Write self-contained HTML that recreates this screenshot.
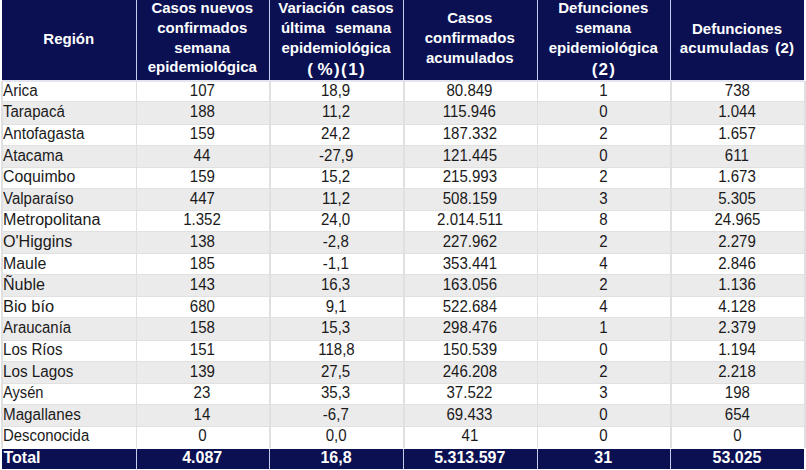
<!DOCTYPE html><html><head><meta charset="utf-8"><style>
html,body{margin:0;padding:0;background:#fff;}
body{width:806px;height:470px;position:relative;overflow:hidden;font-family:"Liberation Sans",sans-serif;}
.a{position:absolute;}
.t{position:absolute;white-space:nowrap;line-height:20px;height:20px;}
.h{color:#fff;font-weight:bold;font-size:15px;text-align:center;}
.b{color:#1a1a1a;font-size:16px;}
.c{text-align:center;}
.s{display:inline-block;transform-origin:50% 50%;transform:scaleX(0.94);}
.sl{display:inline-block;transform-origin:0 50%;transform:scaleX(0.94);}
</style></head><body>
<div class="a" style="left:2px;top:0;width:802px;height:80px;background:#0a1052"></div>
<div class="a" style="left:2px;top:80px;width:802px;height:1.6px;background:#e4e5f1"></div>
<div class="a" style="left:135.5px;top:0;width:1px;height:80px;background:#c8cdf0"></div>
<div class="a" style="left:269.0px;top:0;width:1px;height:80px;background:#c8cdf0"></div>
<div class="a" style="left:403.0px;top:0;width:1px;height:80px;background:#c8cdf0"></div>
<div class="a" style="left:536.5px;top:0;width:1px;height:80px;background:#c8cdf0"></div>
<div class="a" style="left:670.0px;top:0;width:1px;height:80px;background:#c8cdf0"></div>
<div class="a" style="left:2px;top:101.40px;width:802px;height:23.20px;background:#ecebec;box-sizing:border-box;border-top:1.2px solid #e2e1e2;border-bottom:1.2px solid #e2e1e2"></div>
<div class="a" style="left:2px;top:144.60px;width:802px;height:23.20px;background:#ecebec;box-sizing:border-box;border-top:1.2px solid #e2e1e2;border-bottom:1.2px solid #e2e1e2"></div>
<div class="a" style="left:2px;top:187.80px;width:802px;height:23.20px;background:#ecebec;box-sizing:border-box;border-top:1.2px solid #e2e1e2;border-bottom:1.2px solid #e2e1e2"></div>
<div class="a" style="left:2px;top:231.00px;width:802px;height:23.20px;background:#ecebec;box-sizing:border-box;border-top:1.2px solid #e2e1e2;border-bottom:1.2px solid #e2e1e2"></div>
<div class="a" style="left:2px;top:274.20px;width:802px;height:23.20px;background:#ecebec;box-sizing:border-box;border-top:1.2px solid #e2e1e2;border-bottom:1.2px solid #e2e1e2"></div>
<div class="a" style="left:2px;top:317.40px;width:802px;height:23.20px;background:#ecebec;box-sizing:border-box;border-top:1.2px solid #e2e1e2;border-bottom:1.2px solid #e2e1e2"></div>
<div class="a" style="left:2px;top:360.60px;width:802px;height:23.20px;background:#ecebec;box-sizing:border-box;border-top:1.2px solid #e2e1e2;border-bottom:1.2px solid #e2e1e2"></div>
<div class="a" style="left:2px;top:403.80px;width:802px;height:23.20px;background:#ecebec;box-sizing:border-box;border-top:1.2px solid #e2e1e2;border-bottom:1.2px solid #e2e1e2"></div>
<div class="a" style="left:1.3px;top:81px;width:1.4px;height:367px;background:#e0e0e0"></div>
<div class="a" style="left:135.8px;top:81px;width:1.4px;height:367px;background:#e0e0e0"></div>
<div class="a" style="left:269.3px;top:81px;width:1.4px;height:367px;background:#e0e0e0"></div>
<div class="a" style="left:403.3px;top:81px;width:1.4px;height:367px;background:#e0e0e0"></div>
<div class="a" style="left:536.8px;top:81px;width:1.4px;height:367px;background:#e0e0e0"></div>
<div class="a" style="left:670.3px;top:81px;width:1.4px;height:367px;background:#e0e0e0"></div>
<div class="a" style="left:804.3px;top:81px;width:1.4px;height:367px;background:#e0e0e0"></div>
<div class="a" style="left:2px;top:448.5px;width:802px;height:20px;background:#0a1052"></div>
<div class="a" style="left:135.5px;top:448.5px;width:1px;height:20px;background:#c8cdf0"></div>
<div class="a" style="left:269.0px;top:448.5px;width:1px;height:20px;background:#c8cdf0"></div>
<div class="a" style="left:403.0px;top:448.5px;width:1px;height:20px;background:#c8cdf0"></div>
<div class="a" style="left:536.5px;top:448.5px;width:1px;height:20px;background:#c8cdf0"></div>
<div class="a" style="left:670.0px;top:448.5px;width:1px;height:20px;background:#c8cdf0"></div>
<div class="t h" style="left:2.0px;width:133.5px;top:28.70px;">Región</div>
<div class="t h" style="left:135.5px;width:133.5px;top:-1.60px;">Casos nuevos</div>
<div class="t h" style="left:135.5px;width:133.5px;top:18.05px;">confirmados</div>
<div class="t h" style="left:135.5px;width:133.5px;top:37.70px;">semana</div>
<div class="t h" style="left:135.5px;width:133.5px;top:57.35px;">epidemiológica</div>
<div class="t h" style="left:269.0px;width:134.0px;top:-1.60px;word-spacing:2px;">Variación casos</div>
<div class="t h" style="left:269.0px;width:134.0px;top:18.05px;word-spacing:6px;">última semana</div>
<div class="t h" style="left:269.0px;width:134.0px;top:37.70px;">epidemiológica</div>
<div class="t h" style="left:269.0px;width:134.0px;top:59.71px;font-size:17px;letter-spacing:1.4px;text-indent:1.4px;word-spacing:-3px;">( %)(1)</div>
<div class="t h" style="left:403.0px;width:133.5px;top:8.30px;">Casos</div>
<div class="t h" style="left:403.0px;width:133.5px;top:27.95px;">confirmados</div>
<div class="t h" style="left:403.0px;width:133.5px;top:47.60px;">acumulados</div>
<div class="t h" style="left:536.5px;width:133.5px;top:-1.60px;">Defunciones</div>
<div class="t h" style="left:536.5px;width:133.5px;top:18.05px;">semana</div>
<div class="t h" style="left:536.5px;width:133.5px;top:37.70px;">epidemiológica</div>
<div class="t h" style="left:536.5px;width:133.5px;top:59.71px;font-size:17px;letter-spacing:1.2px;text-indent:1.2px;">(2)</div>
<div class="t h" style="left:670.0px;width:134.0px;top:18.60px;">Defunciones</div>
<div class="t h" style="left:670.0px;width:134.0px;top:38.25px;letter-spacing:0.25px;word-spacing:2px;">acumuladas (2)</div>
<div class="t b" style="left:3px;top:80.86px"><span class="sl" style="transform:scaleX(0.951)">Arica</span></div>
<div class="t b c" style="left:135.5px;width:133.5px;top:80.86px"><span class="s">107</span></div>
<div class="t b c" style="left:269.0px;width:134.0px;top:80.86px"><span class="s">18,9</span></div>
<div class="t b c" style="left:403.0px;width:133.5px;top:80.86px"><span class="s">80.849</span></div>
<div class="t b c" style="left:536.5px;width:133.5px;top:80.86px"><span class="s">1</span></div>
<div class="t b c" style="left:670.0px;width:134.0px;top:80.86px"><span class="s">738</span></div>
<div class="t b" style="left:3px;top:102.46px"><span class="sl" style="transform:scaleX(0.939)">Tarapacá</span></div>
<div class="t b c" style="left:135.5px;width:133.5px;top:102.46px"><span class="s">188</span></div>
<div class="t b c" style="left:269.0px;width:134.0px;top:102.46px"><span class="s">11,2</span></div>
<div class="t b c" style="left:403.0px;width:133.5px;top:102.46px"><span class="s">115.946</span></div>
<div class="t b c" style="left:536.5px;width:133.5px;top:102.46px"><span class="s">0</span></div>
<div class="t b c" style="left:670.0px;width:134.0px;top:102.46px"><span class="s">1.044</span></div>
<div class="t b" style="left:3px;top:124.06px"><span class="sl" style="transform:scaleX(0.953)">Antofagasta</span></div>
<div class="t b c" style="left:135.5px;width:133.5px;top:124.06px"><span class="s">159</span></div>
<div class="t b c" style="left:269.0px;width:134.0px;top:124.06px"><span class="s">24,2</span></div>
<div class="t b c" style="left:403.0px;width:133.5px;top:124.06px"><span class="s">187.332</span></div>
<div class="t b c" style="left:536.5px;width:133.5px;top:124.06px"><span class="s">2</span></div>
<div class="t b c" style="left:670.0px;width:134.0px;top:124.06px"><span class="s">1.657</span></div>
<div class="t b" style="left:3px;top:145.66px"><span class="sl" style="transform:scaleX(0.952)">Atacama</span></div>
<div class="t b c" style="left:135.5px;width:133.5px;top:145.66px"><span class="s">44</span></div>
<div class="t b c" style="left:269.0px;width:134.0px;top:145.66px"><span class="s">-27,9</span></div>
<div class="t b c" style="left:403.0px;width:133.5px;top:145.66px"><span class="s">121.445</span></div>
<div class="t b c" style="left:536.5px;width:133.5px;top:145.66px"><span class="s">0</span></div>
<div class="t b c" style="left:670.0px;width:134.0px;top:145.66px"><span class="s">611</span></div>
<div class="t b" style="left:3px;top:167.26px"><span class="sl" style="transform:scaleX(0.990)">Coquimbo</span></div>
<div class="t b c" style="left:135.5px;width:133.5px;top:167.26px"><span class="s">159</span></div>
<div class="t b c" style="left:269.0px;width:134.0px;top:167.26px"><span class="s">15,2</span></div>
<div class="t b c" style="left:403.0px;width:133.5px;top:167.26px"><span class="s">215.993</span></div>
<div class="t b c" style="left:536.5px;width:133.5px;top:167.26px"><span class="s">2</span></div>
<div class="t b c" style="left:670.0px;width:134.0px;top:167.26px"><span class="s">1.673</span></div>
<div class="t b" style="left:3px;top:188.86px"><span class="sl" style="transform:scaleX(0.937)">Valparaíso</span></div>
<div class="t b c" style="left:135.5px;width:133.5px;top:188.86px"><span class="s">447</span></div>
<div class="t b c" style="left:269.0px;width:134.0px;top:188.86px"><span class="s">11,2</span></div>
<div class="t b c" style="left:403.0px;width:133.5px;top:188.86px"><span class="s">508.159</span></div>
<div class="t b c" style="left:536.5px;width:133.5px;top:188.86px"><span class="s">3</span></div>
<div class="t b c" style="left:670.0px;width:134.0px;top:188.86px"><span class="s">5.305</span></div>
<div class="t b" style="left:3px;top:210.46px"><span class="sl" style="transform:scaleX(1.005)">Metropolitana</span></div>
<div class="t b c" style="left:135.5px;width:133.5px;top:210.46px"><span class="s">1.352</span></div>
<div class="t b c" style="left:269.0px;width:134.0px;top:210.46px"><span class="s">24,0</span></div>
<div class="t b c" style="left:403.0px;width:133.5px;top:210.46px"><span class="s">2.014.511</span></div>
<div class="t b c" style="left:536.5px;width:133.5px;top:210.46px"><span class="s">8</span></div>
<div class="t b c" style="left:670.0px;width:134.0px;top:210.46px"><span class="s">24.965</span></div>
<div class="t b" style="left:3px;top:232.06px"><span class="sl" style="transform:scaleX(1.007)">O'Higgins</span></div>
<div class="t b c" style="left:135.5px;width:133.5px;top:232.06px"><span class="s">138</span></div>
<div class="t b c" style="left:269.0px;width:134.0px;top:232.06px"><span class="s">-2,8</span></div>
<div class="t b c" style="left:403.0px;width:133.5px;top:232.06px"><span class="s">227.962</span></div>
<div class="t b c" style="left:536.5px;width:133.5px;top:232.06px"><span class="s">2</span></div>
<div class="t b c" style="left:670.0px;width:134.0px;top:232.06px"><span class="s">2.279</span></div>
<div class="t b" style="left:3px;top:253.66px"><span class="sl" style="transform:scaleX(0.993)">Maule</span></div>
<div class="t b c" style="left:135.5px;width:133.5px;top:253.66px"><span class="s">185</span></div>
<div class="t b c" style="left:269.0px;width:134.0px;top:253.66px"><span class="s">-1,1</span></div>
<div class="t b c" style="left:403.0px;width:133.5px;top:253.66px"><span class="s">353.441</span></div>
<div class="t b c" style="left:536.5px;width:133.5px;top:253.66px"><span class="s">4</span></div>
<div class="t b c" style="left:670.0px;width:134.0px;top:253.66px"><span class="s">2.846</span></div>
<div class="t b" style="left:3px;top:275.26px"><span class="sl" style="transform:scaleX(1.005)">Ñuble</span></div>
<div class="t b c" style="left:135.5px;width:133.5px;top:275.26px"><span class="s">143</span></div>
<div class="t b c" style="left:269.0px;width:134.0px;top:275.26px"><span class="s">16,3</span></div>
<div class="t b c" style="left:403.0px;width:133.5px;top:275.26px"><span class="s">163.056</span></div>
<div class="t b c" style="left:536.5px;width:133.5px;top:275.26px"><span class="s">2</span></div>
<div class="t b c" style="left:670.0px;width:134.0px;top:275.26px"><span class="s">1.136</span></div>
<div class="t b" style="left:3px;top:296.86px"><span class="sl" style="transform:scaleX(1.025)">Bio bío</span></div>
<div class="t b c" style="left:135.5px;width:133.5px;top:296.86px"><span class="s">680</span></div>
<div class="t b c" style="left:269.0px;width:134.0px;top:296.86px"><span class="s">9,1</span></div>
<div class="t b c" style="left:403.0px;width:133.5px;top:296.86px"><span class="s">522.684</span></div>
<div class="t b c" style="left:536.5px;width:133.5px;top:296.86px"><span class="s">4</span></div>
<div class="t b c" style="left:670.0px;width:134.0px;top:296.86px"><span class="s">4.128</span></div>
<div class="t b" style="left:3px;top:318.46px"><span class="sl" style="transform:scaleX(0.934)">Araucanía</span></div>
<div class="t b c" style="left:135.5px;width:133.5px;top:318.46px"><span class="s">158</span></div>
<div class="t b c" style="left:269.0px;width:134.0px;top:318.46px"><span class="s">15,3</span></div>
<div class="t b c" style="left:403.0px;width:133.5px;top:318.46px"><span class="s">298.476</span></div>
<div class="t b c" style="left:536.5px;width:133.5px;top:318.46px"><span class="s">1</span></div>
<div class="t b c" style="left:670.0px;width:134.0px;top:318.46px"><span class="s">2.379</span></div>
<div class="t b" style="left:3px;top:340.06px"><span class="sl" style="transform:scaleX(0.942)">Los Ríos</span></div>
<div class="t b c" style="left:135.5px;width:133.5px;top:340.06px"><span class="s">151</span></div>
<div class="t b c" style="left:269.0px;width:134.0px;top:340.06px"><span class="s">118,8</span></div>
<div class="t b c" style="left:403.0px;width:133.5px;top:340.06px"><span class="s">150.539</span></div>
<div class="t b c" style="left:536.5px;width:133.5px;top:340.06px"><span class="s">0</span></div>
<div class="t b c" style="left:670.0px;width:134.0px;top:340.06px"><span class="s">1.194</span></div>
<div class="t b" style="left:3px;top:361.66px"><span class="sl" style="transform:scaleX(0.953)">Los Lagos</span></div>
<div class="t b c" style="left:135.5px;width:133.5px;top:361.66px"><span class="s">139</span></div>
<div class="t b c" style="left:269.0px;width:134.0px;top:361.66px"><span class="s">27,5</span></div>
<div class="t b c" style="left:403.0px;width:133.5px;top:361.66px"><span class="s">246.208</span></div>
<div class="t b c" style="left:536.5px;width:133.5px;top:361.66px"><span class="s">2</span></div>
<div class="t b c" style="left:670.0px;width:134.0px;top:361.66px"><span class="s">2.218</span></div>
<div class="t b" style="left:3px;top:383.26px"><span class="sl" style="transform:scaleX(0.916)">Aysén</span></div>
<div class="t b c" style="left:135.5px;width:133.5px;top:383.26px"><span class="s">23</span></div>
<div class="t b c" style="left:269.0px;width:134.0px;top:383.26px"><span class="s">35,3</span></div>
<div class="t b c" style="left:403.0px;width:133.5px;top:383.26px"><span class="s">37.522</span></div>
<div class="t b c" style="left:536.5px;width:133.5px;top:383.26px"><span class="s">3</span></div>
<div class="t b c" style="left:670.0px;width:134.0px;top:383.26px"><span class="s">198</span></div>
<div class="t b" style="left:3px;top:404.86px"><span class="sl" style="transform:scaleX(0.950)">Magallanes</span></div>
<div class="t b c" style="left:135.5px;width:133.5px;top:404.86px"><span class="s">14</span></div>
<div class="t b c" style="left:269.0px;width:134.0px;top:404.86px"><span class="s">-6,7</span></div>
<div class="t b c" style="left:403.0px;width:133.5px;top:404.86px"><span class="s">69.433</span></div>
<div class="t b c" style="left:536.5px;width:133.5px;top:404.86px"><span class="s">0</span></div>
<div class="t b c" style="left:670.0px;width:134.0px;top:404.86px"><span class="s">654</span></div>
<div class="t b" style="left:3px;top:426.46px"><span class="sl" style="transform:scaleX(0.932)">Desconocida</span></div>
<div class="t b c" style="left:135.5px;width:133.5px;top:426.46px"><span class="s">0</span></div>
<div class="t b c" style="left:269.0px;width:134.0px;top:426.46px"><span class="s">0,0</span></div>
<div class="t b c" style="left:403.0px;width:133.5px;top:426.46px"><span class="s">41</span></div>
<div class="t b c" style="left:536.5px;width:133.5px;top:426.46px"><span class="s">0</span></div>
<div class="t b c" style="left:670.0px;width:134.0px;top:426.46px"><span class="s">0</span></div>
<div class="t b" style="left:3.5px;top:448.16px;color:#fff;font-weight:bold">Total</div>
<div class="t b c" style="left:135.5px;width:133.5px;top:448.16px;color:#fff;font-weight:bold">4.087</div>
<div class="t b c" style="left:269.0px;width:134.0px;top:448.16px;color:#fff;font-weight:bold">16,8</div>
<div class="t b c" style="left:403.0px;width:133.5px;top:448.16px;color:#fff;font-weight:bold">5.313.597</div>
<div class="t b c" style="left:536.5px;width:133.5px;top:448.16px;color:#fff;font-weight:bold">31</div>
<div class="t b c" style="left:670.0px;width:134.0px;top:448.16px;color:#fff;font-weight:bold">53.025</div>
</body></html>
